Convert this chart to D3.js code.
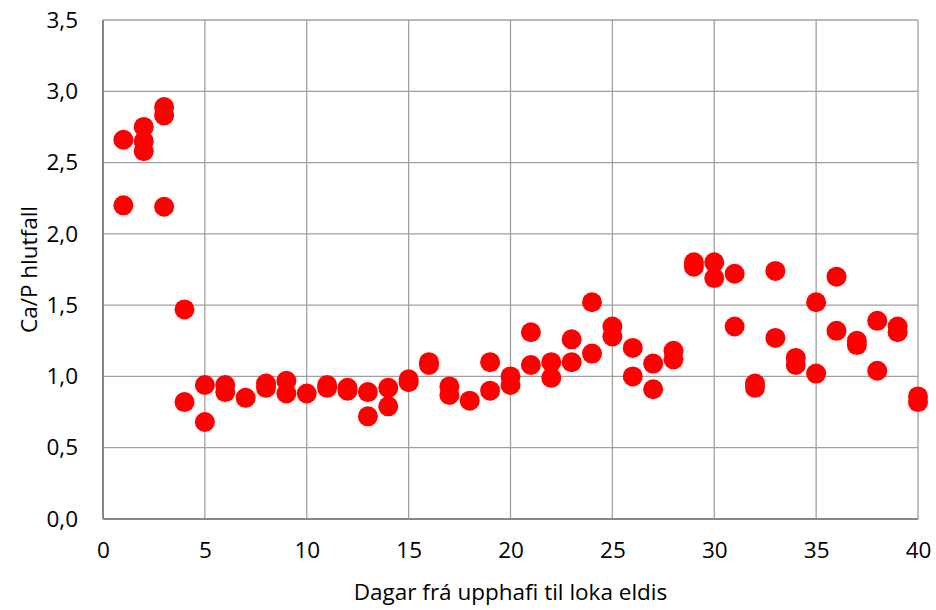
<!DOCTYPE html>
<html><head><meta charset="utf-8">
<script src="https://cdn.jsdelivr.net/npm/d3@7"></script>
<style>body{margin:0;background:#fff}svg{display:block}</style>
</head><body>
<script>
const days = [1,1,2,2,2,3,3,3,4,4,5,5,6,6,7,8,8,9,9,10,11,11,12,12,13,13,14,14,15,15,16,16,17,17,18,19,19,20,20,21,21,22,22,23,23,24,24,25,25,26,26,27,27,28,28,29,29,30,30,31,31,32,32,33,33,34,34,35,35,36,36,37,37,38,38,39,39,40,40];
const ratios = [2.66,2.20,2.75,2.65,2.58,2.89,2.83,2.19,1.47,0.82,0.94,0.68,0.94,0.89,0.85,0.95,0.92,0.97,0.88,0.88,0.94,0.92,0.92,0.90,0.89,0.72,0.92,0.79,0.98,0.96,1.10,1.08,0.93,0.87,0.83,1.10,0.90,1.00,0.94,1.31,1.08,1.10,0.99,1.26,1.10,1.52,1.16,1.35,1.28,1.20,1.00,1.09,0.91,1.18,1.12,1.80,1.77,1.80,1.69,1.72,1.35,0.95,0.92,1.74,1.27,1.13,1.08,1.52,1.02,1.70,1.32,1.25,1.22,1.39,1.04,1.35,1.31,0.86,0.82];
const xTicks = [0,5,10,15,20,25,30,35,40];
const yTicks = [0,0.5,1,1.5,2,2.5,3,3.5];
const xTitle = "Dagar frá upphafi til loka eldis";
const yTitle = "Ca/P hlutfall";

const W = 936, H = 610;
const m = {left:103, right:18, top:20, bottom:91};
const svg = d3.select("body").append("svg").attr("width",W).attr("height",H);
const x = d3.scaleLinear().domain([0,40]).range([m.left, W-m.right]);
const y = d3.scaleLinear().domain([0,3.5]).range([H-m.bottom, m.top]);
const font = "'Open Sans', Lato, sans-serif";
const fs = 22.5;
const fmt = d => d3.format(".1f")(d).replace(".", ",");

// grid
svg.append("g").selectAll("line").data(xTicks).join("line")
  .attr("x1",d=>x(d)).attr("x2",d=>x(d)).attr("y1",y(0)).attr("y2",y(3.5))
  .attr("stroke","#a0a0a0").attr("stroke-width",1.3);
svg.append("g").selectAll("line").data(yTicks).join("line")
  .attr("x1",x(0)).attr("x2",x(40)).attr("y1",d=>y(d)).attr("y2",d=>y(d))
  .attr("stroke","#a0a0a0").attr("stroke-width",1.3);
// axes lines
svg.append("line").attr("x1",x(0)).attr("x2",x(0)).attr("y1",y(0)).attr("y2",y(3.5)).attr("stroke","#868686").attr("stroke-width",2);
svg.append("line").attr("x1",x(0)).attr("x2",x(40)).attr("y1",y(0)).attr("y2",y(0)).attr("stroke","#868686").attr("stroke-width",2);

// axes labels via d3 axis
const xAxis = svg.append("g").attr("transform",`translate(0,${y(0)})`)
  .call(d3.axisBottom(x).tickValues(xTicks).tickSize(0).tickPadding(23).tickFormat(d3.format("d")));
const yAxis = svg.append("g").attr("transform",`translate(${x(0)},0)`)
  .call(d3.axisLeft(y).tickValues(yTicks).tickSize(0).tickPadding(25).tickFormat(fmt));
[xAxis,yAxis].forEach(a=>{a.select(".domain").remove();
  a.selectAll("text").attr("font-family",font).attr("font-size",fs).attr("fill","#000");});

svg.append("text").attr("x",(x(0)+x(40))/2).attr("y",600).attr("text-anchor","middle")
  .attr("font-family",font).attr("font-size",fs).text(xTitle);
svg.append("text").attr("transform",`translate(37,${(y(0)+y(3.5))/2}) rotate(-90)`).attr("text-anchor","middle")
  .attr("font-family",font).attr("font-size",fs).text(yTitle);

// points
svg.append("g").selectAll("circle").data(days.map((d,i)=>[d,ratios[i]])).join("circle")
  .attr("cx",d=>x(d[0])).attr("cy",d=>y(d[1])).attr("r",10).attr("fill","#ff0000");
</script>
</body></html>
